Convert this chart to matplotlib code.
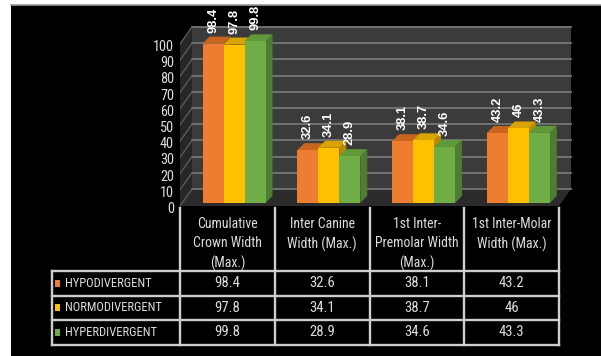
import matplotlib
matplotlib.use("Agg")
import matplotlib.pyplot as plt
from matplotlib import font_manager, transforms
from matplotlib.patches import Polygon, Rectangle
from matplotlib.lines import Line2D

# データ
categories = ["Cumulative\nCrown Width\n(Max.)", "Inter Canine\nWidth (Max.)",
              "1st Inter-\nPremolar Width\n(Max.)", "1st Inter-Molar\nWidth (Max.)"]
series_names = ["HYPODIVERGENT", "NORMODIVERGENT", "HYPERDIVERGENT"]
hypo = [98.4, 32.6, 38.1, 43.2]
normo = [97.8, 34.1, 38.7, 46]
hyper = [99.8, 28.9, 34.6, 43.3]
y_ticks = [0, 10, 20, 30, 40, 50, 60, 70, 80, 90, 100]

values = [hypo, normo, hyper]
front_colors = ["#ED7D31", "#FFC000", "#70AD47"]
side_colors = ["#A9561E", "#B88A00", "#4E7D31"]
top_colors = ["#C9651F", "#D9A400", "#5F9939"]

# 細めのフォントを探す（なければ Liberation Sans を小さめに）
names = {f.name for f in font_manager.fontManager.ttflist}
narrow, fs = "Liberation Sans", 1.0
for cand in ["Liberation Sans Narrow", "Roboto Condensed", "DejaVu Sans Condensed"]:
    if cand in names:
        narrow, fs = cand, 1.15
        break
txt_color = "#dcdcdc"

W, H = 601, 356
fig = plt.figure(figsize=(W / 100, H / 100), dpi=100, facecolor="white")

def fbox(x0, y0, x1, y1):
    # ピクセル座標 -> figure 比率
    return [x0 / W, 1 - y1 / H, (x1 - x0) / W, (y1 - y0) / H]

# 黒い背景
fig.patches.append(Rectangle((11 / W, 0), 1 - 11 / W, 1 - 5 / H, transform=fig.transFigure,
                             facecolor="black", edgecolor="none", zorder=-10))
fig.lines.append(Line2D([11 / W, 1], [1 - 5 / H, 1 - 5 / H], transform=fig.transFigure,
                        color="#9a9a9a", lw=1.2, zorder=-9))

# グラフ部分
px_x = 94.75  # 1カテゴリあたりのピクセル
px_y = 1.62   # 1単位あたりのピクセル
ax = fig.add_axes(fbox(180, 0, 580, 208))
ax.set_xlim(-0.5, -0.5 + 400 / px_x)
ax.set_ylim((203 - 208) / px_y, 203 / px_y)
ax.axis("off")

n = len(categories)
wdx, wdy = 12 / px_x, 17 / px_y   # 壁の奥行き
v0 = -1.85                        # 床の手前の高さ
x_l, x_r = -0.5, n - 0.5

# 奥の壁
ax.add_patch(Polygon([(x_l + wdx, v0 + wdy), (x_r + wdx, v0 + wdy),
                      (x_r + wdx, v0 + wdy + 100), (x_l + wdx, v0 + wdy + 100)],
                     closed=True, facecolor="#3b3b3b", edgecolor="none", zorder=1))
# 左の壁
ax.add_patch(Polygon([(x_l, v0), (x_l + wdx, v0 + wdy), (x_l + wdx, v0 + wdy + 100), (x_l, v0 + 100)],
                     closed=True, facecolor="#262626", edgecolor="none", zorder=1))
# 床
ax.add_patch(Polygon([(x_l, v0), (x_r, v0), (x_r + wdx, v0 + wdy), (x_l + wdx, v0 + wdy)],
                     closed=True, facecolor="#2b2b2b", edgecolor="none", zorder=1))
for t in y_ticks:
    ax.plot([x_l + wdx, x_r + wdx], [v0 + wdy + t, v0 + wdy + t], color="#767676", lw=1.3, zorder=2)
    ax.plot([x_l, x_l + wdx], [v0 + t, v0 + wdy + t], color="#5a5a5a", lw=1.0, zorder=2)

# 目盛りラベル
tick_tr = transforms.offset_copy(ax.transData, fig=fig, x=-6, y=-6, units="dots")
for t in y_ticks:
    ax.text(x_l, t, str(t), transform=tick_tr, ha="right", va="center",
            color=txt_color, fontsize=8.9 * fs, family=narrow)

# 棒（疑似3D）
bw = 21 / px_x
bdx, bdy = 7 / px_x, 7 / px_y
shift = 0.07
lab_tr = transforms.offset_copy(ax.transData, fig=fig, x=0, y=4, units="dots")
for i in range(n):
    for s in range(len(values)):
        v = values[s][i]
        xc = i + shift + (s - 1) * bw
        a, b = xc - bw / 2, xc + bw / 2
        ax.add_patch(Polygon([(b, 0), (b + bdx, bdy), (b + bdx, v + bdy), (b, v)],
                             closed=True, facecolor=side_colors[s], edgecolor="none", zorder=3))
        ax.add_patch(Polygon([(a, v), (b, v), (b + bdx, v + bdy), (a + bdx, v + bdy)],
                             closed=True, facecolor=top_colors[s], edgecolor="none", zorder=3))
        ax.add_patch(Rectangle((a, 0), bw, v, facecolor=front_colors[s], edgecolor="none", zorder=3))
        ax.text(xc, v + bdy, f"{v:g}", transform=lab_tr, rotation=90, ha="center", va="bottom",
                color="white", fontsize=9.3, fontweight="bold", family="Liberation Sans", zorder=5)

# データテーブル
leg_l = -0.5 - 128 / px_x
tx = fig.add_axes(fbox(52, 208, 560, 346))
tx.set_xlim(leg_l, -0.5 + 380 / px_x)
tx.set_ylim(138, 0)
tx.axis("off")
head_h, row_h = 63, 24.5
line_c, line_w = "#cfcfcf", 1.7

for k in range(n + 1):
    tx.plot([x_l + k, x_l + k], [0, head_h + 3 * row_h], color=line_c, lw=line_w, clip_on=False)
tx.plot([leg_l, leg_l], [head_h, head_h + 3 * row_h], color=line_c, lw=line_w, clip_on=False)
for r in range(4):
    yy = head_h + r * row_h
    tx.plot([leg_l, x_r], [yy, yy], color=line_c, lw=line_w, clip_on=False)

for i, cat in enumerate(categories):
    tx.text(i, 9, cat, ha="center", va="top", color=txt_color, fontsize=8.6 * fs,
            family=narrow, linespacing=1.45)

for s, name in enumerate(series_names):
    yc = head_h + (s + 0.5) * row_h
    tx.add_patch(Rectangle((leg_l + 3 / px_x, yc - 3.5), 5 / px_x, 7, facecolor=front_colors[s],
                           edgecolor="none"))
    tx.text(leg_l + 13 / px_x, yc, name, ha="left", va="center", color=txt_color,
            fontsize=7.8 * fs, family=narrow)
    for i in range(n):
        tx.text(i, yc, f"{values[s][i]:g}", ha="center", va="center", color=txt_color,
                fontsize=9.2 * fs, family=narrow)

fig.savefig("out.png", dpi=100, facecolor=fig.get_facecolor())
